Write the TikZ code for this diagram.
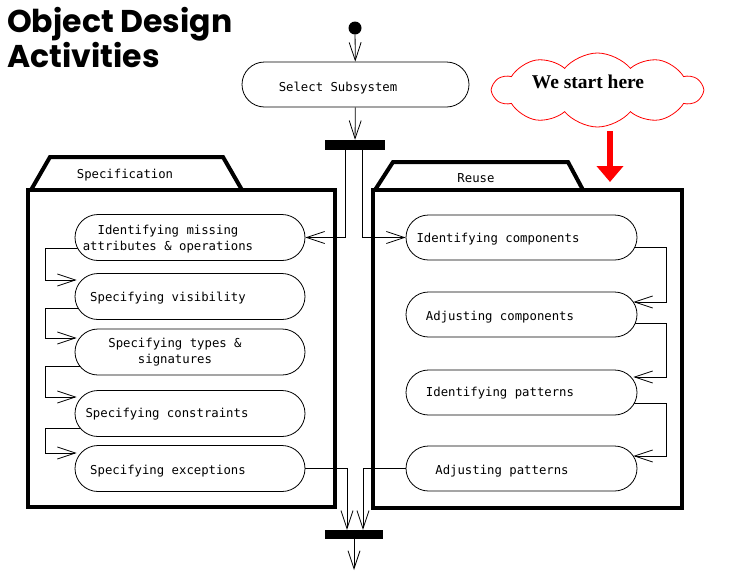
\documentclass[tikz,border=0pt]{standalone}
\usepackage{fontspec}
\setmonofont{DejaVu Sans Mono}
\newfontfamily\titlefont{Poppins}
\newfontfamily\cloudfont{Liberation Serif}
\usetikzlibrary{arrows.meta,shapes.misc,shapes.symbols,calc}
\pgfdeclarelayer{background}
\pgfsetlayers{background,main}
\begin{document}
\begin{tikzpicture}[x=1pt,y=-1pt,
  act/.style={rounded rectangle, draw, line width=0.8pt, fill=white, minimum height=46pt, inner sep=0pt},
  lbl/.style={font=\ttfamily\fontsize{12.3}{16}\selectfont, align=center, inner sep=0pt},
  arr/.style={line width=0.8pt, -{Straight Barb[length=18pt,width=12pt]}},
  pkg/.style={line width=4pt, line join=miter},
  barnode/.style={fill=black, draw=none, minimum width=60pt, minimum height=10pt, inner sep=0pt},
]
\useasboundingbox (0,0) rectangle (734,579);

% title
\node[anchor=north west, inner sep=0pt, align=left,
      font=\titlefont\bfseries\fontsize{31.5}{35}\selectfont] (title) at (7,7) {Object Design\\Activities};

% packages
\draw[pkg] (31,190) -- (50,157) -- (223,157) -- (242,190);
\draw[pkg] (28,190) rectangle (335,507);
\node[lbl] (spectitle) at (125,175) {Specification};
\draw[pkg] (375,190) -- (393,162) -- (568,162) -- (583,190);
\draw[pkg] (373,190) rectangle (682,508);
\node[lbl] (reusetitle) at (476,178) {Reuse};

% start, select, fork
\node[circle, fill=black, minimum size=13pt, inner sep=0pt] (start) at (355,28) {};
\node[act, minimum width=227pt, minimum height=45pt] (sel) at (355.5,84.5) {};
\node[lbl] (selt) at (338,88) {Select Subsystem};
\node[barnode] (fork) at (355,145) {};

% specification activities
\node[act, minimum width=230pt] (s1) at (190,237.5) {};
\node[act, minimum width=230pt] (s2) at (190,296.5) {};
\node[act, minimum width=230pt] (s3) at (190,352) {};
\node[act, minimum width=230pt] (s4) at (190,413.5) {};
\node[act, minimum width=230pt] (s5) at (190,468.5) {};
\node[lbl] (s1t) at (168,239) {Identifying missing\\attributes \& operations};
\node[lbl] (s2t) at (168,298) {Specifying visibility};
\node[lbl] (s3t) at (175,352) {Specifying types \&\\signatures};
\node[lbl] (s4t) at (167,414) {Specifying constraints};
\node[lbl] (s5t) at (168,471) {Specifying exceptions};

% reuse activities
\node[act, minimum width=231pt, minimum height=45pt] (r1) at (521.5,237.5) {};
\node[act, minimum width=231pt, minimum height=45pt] (r2) at (521.5,314.5) {};
\node[act, minimum width=231pt, minimum height=45pt] (r3) at (521.5,392.5) {};
\node[act, minimum width=231pt, minimum height=45pt] (r4) at (521.5,468.5) {};
\node[lbl] (r1t) at (498,239) {Identifying components};
\node[lbl] (r2t) at (500,317) {Adjusting components};
\node[lbl] (r3t) at (500,393) {Identifying patterns};
\node[lbl] (r4t) at (502,471) {Adjusting patterns};

% join
\node[barnode, minimum width=58pt, minimum height=9pt] (join) at (354,534.5) {};
\coordinate (endpt) at (354,570);

% cloud
\node[cloud, cloud puffs=10, cloud puff arc=100, aspect=2.7, draw=red, line width=0.8pt, fill=white,
      minimum width=209pt, minimum height=74pt] (cloud) at (597.5,90) {};
\node[font=\cloudfont\bfseries\fontsize{19.5}{22}\selectfont, inner sep=0pt] (cloudt) at (588,82) {We start here};
\coordinate (ra1) at (610,131);
\coordinate (ra2) at (610,182);
\draw[red, line width=6pt, -{Triangle[length=16pt,width=26pt]}] (ra1) -- (ra2);

% connectors
\coordinate (lrail) at (45,300);
\coordinate (rrail) at (666,300);
\coordinate (s1o) at ([yshift=-10.5pt]s1.center);
\coordinate (s2i) at ([xshift=2pt,yshift=16.5pt]s2.west);
\coordinate (s2o) at ([yshift=-11.5pt]s2.center);
\coordinate (s3i) at ([xshift=2pt,yshift=14pt]s3.west);
\coordinate (s3o) at ([yshift=-14pt]s3.center);
\coordinate (s4i) at ([xshift=2pt,yshift=16.5pt]s4.west);
\coordinate (s4o) at ([yshift=-14.5pt]s4.center);
\coordinate (s5i) at ([xshift=2pt,yshift=15.5pt]s5.west);
\coordinate (r1o) at ([yshift=-9.5pt]r1.center);
\coordinate (r2i) at ([xshift=-4pt,yshift=12.5pt]r2.east);
\coordinate (r2o) at ([yshift=-8.5pt]r2.center);
\coordinate (r3i) at ([xshift=-4pt,yshift=15.5pt]r3.east);
\coordinate (r3o) at ([yshift=-10.5pt]r3.center);
\coordinate (r4i) at ([xshift=-4pt,yshift=12.5pt]r4.east);

\begin{pgfonlayer}{background}
\draw[arr] (start) -- (sel);
\draw[arr] (sel) -- (fork);
\draw[arr] ([xshift=-10pt]fork.south) |- (s1.east);
\draw[arr] ([xshift=7pt]fork.south) |- (r1.west);
\draw[arr] (s1o) -| (lrail |- s2i) -- (s2i);
\draw[arr] (s2o) -| (lrail |- s3i) -- (s3i);
\draw[arr] (s3o) -| (lrail |- s4i) -- (s4i);
\draw[arr] (s4o) -| (lrail |- s5i) -- (s5i);
\draw[arr] (r1o) -| (rrail |- r2i) -- (r2i);
\draw[arr] (r2o) -| (rrail |- r3i) -- (r3i);
\draw[arr] (r3o) -| (rrail |- r4i) -- (r4i);
\draw[arr] (s5.east) -| ([xshift=-7pt]join.north);
\draw[arr] (r4.west) -| ([xshift=9pt]join.north);
\draw[arr] (join.south) -- (endpt);
\end{pgfonlayer}
\end{tikzpicture}
\end{document}
